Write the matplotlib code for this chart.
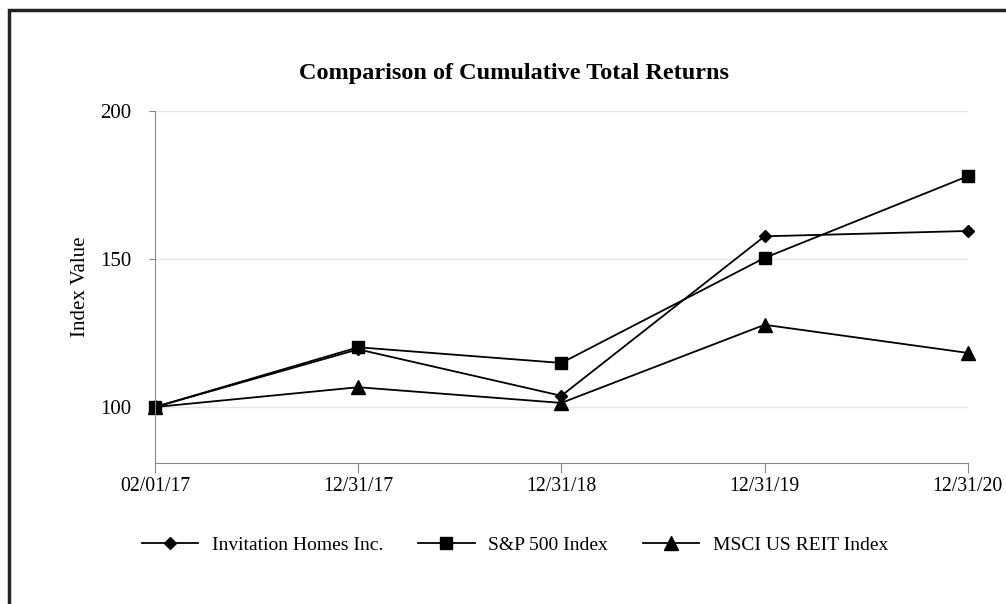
import matplotlib.pyplot as plt
from matplotlib.patches import Rectangle

dates = ['02/01/17', '12/31/17', '12/31/18', '12/31/19', '12/31/20']
invh = [100, 119.5, 103.8, 157.7, 159.5]
sp500 = [100, 120.2, 114.9, 150.4, 178.0]
msci = [100, 106.7, 101.4, 127.8, 118.3]

plt.rcParams['font.family'] = ['Liberation Serif', 'DejaVu Serif']

fig = plt.figure(figsize=(10.06, 6.04), dpi=100)
ax = fig.add_axes([0.154, 0.233, 0.808, 0.583])

x = range(len(dates))
ax.plot(x, invh, color='black', lw=1.3, marker='D', ms=6, clip_on=False, label='Invitation Homes Inc.')
ax.plot(x, sp500, color='black', lw=1.3, marker='s', ms=9, clip_on=False, label='S&P 500 Index')
ax.plot(x, msci, color='black', lw=1.3, marker='^', ms=10, clip_on=False, label='MSCI US REIT Index')

ax.set_xlim(0, len(dates) - 1)
ax.set_ylim(81, 200)
ax.set_yticks([100, 150, 200])
ax.set_xticks(list(x))
ax.set_xticklabels(dates)
ax.grid(axis='y', color='#e6e6e6', lw=1)
ax.set_axisbelow(True)

for s in ['top', 'right']:
    ax.spines[s].set_visible(False)
for s in ['left', 'bottom']:
    ax.spines[s].set_color('#888888')
ax.tick_params(axis='x', colors='#888888', labelcolor='black', labelsize=14.2, length=7, pad=3)
ax.tick_params(axis='y', colors='#888888', labelcolor='black', labelsize=15, length=4, pad=13)

ax.set_ylabel('Index Value', fontsize=15, labelpad=7)
fig.text(0.511, 0.879, 'Comparison of Cumulative Total Returns', ha='center', va='center',
         fontsize=17.5, fontweight='bold')

leg = fig.legend(loc='center', bbox_to_anchor=(0.512, 0.098), ncol=3, frameon=False,
                 fontsize=14, handlelength=2.9, columnspacing=1.8, handletextpad=0.7)

fig.patches.append(Rectangle((0.009, -0.1), 1.1, 1.083, transform=fig.transFigure,
                             fill=False, edgecolor='#222222', lw=2.5))

fig.savefig('out.png', dpi=100)
